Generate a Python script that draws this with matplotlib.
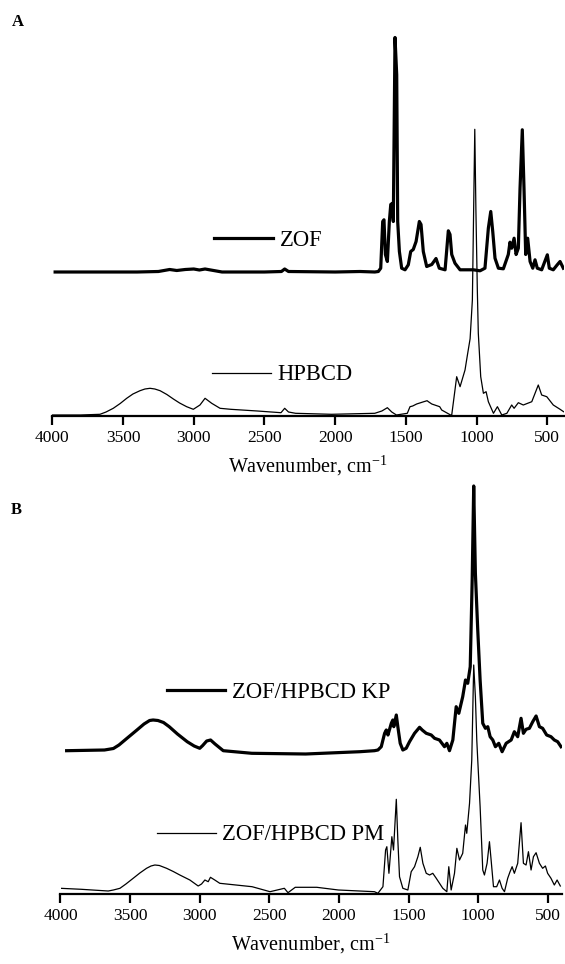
import matplotlib
matplotlib.use("Agg")
import matplotlib.pyplot as plt
from matplotlib.legend import Legend

plt.rcParams['font.family'] = ['Liberation Serif', 'DejaVu Serif']
plt.rcParams['mathtext.fontset'] = 'stix'

# ---------------- data (wavenumber, cm-1 ; absorbance, a.u., stacked) ----------------
zof_wn = [3980, 3700, 3400, 3250, 3170, 3120, 3060, 3000, 2960, 2920, 2860, 2800, 2500, 2380,
          2357, 2330, 2000, 1824, 1720, 1695, 1678, 1664, 1655, 1645, 1631, 1617, 1607, 1595,
          1589, 1577, 1565, 1558, 1546, 1530, 1506, 1483, 1466, 1448, 1428, 1405, 1393, 1377,
          1353, 1317, 1287, 1264, 1223, 1200, 1188, 1176, 1153, 1117, 1070, 1023, 976, 941,
          917, 900, 886, 870, 846, 811, 776, 764, 752, 735, 721, 705, 693, 677, 665, 653, 639,
          622, 603, 587, 571, 540, 500, 486, 458, 430, 410, 387]
zof_abs = [1.44, 1.44, 1.44, 1.445, 1.465, 1.455, 1.465, 1.47, 1.46, 1.47, 1.455, 1.44, 1.44, 1.445,
           1.47, 1.445, 1.44, 1.445, 1.44, 1.445, 1.478, 1.945, 1.962, 1.615, 1.545, 1.945, 2.115, 2.128,
           1.945, 3.785, 3.412, 1.945, 1.645, 1.478, 1.462, 1.512, 1.645, 1.665, 1.745, 1.945, 1.915, 1.645,
           1.495, 1.515, 1.575, 1.478, 1.462, 1.852, 1.815, 1.615, 1.528, 1.462, 1.462, 1.462, 1.452, 1.478,
           1.878, 2.045, 1.845, 1.578, 1.478, 1.472, 1.615, 1.738, 1.678, 1.778, 1.615, 1.678, 2.278, 2.862,
           2.278, 1.615, 1.778, 1.545, 1.478, 1.562, 1.478, 1.462, 1.612, 1.478, 1.462, 1.512, 1.545, 1.478]

hpbcd_wn = [4000, 3800, 3663, 3620, 3569, 3520, 3474, 3430, 3380, 3345, 3309, 3275, 3238, 3190,
            3144, 3100, 3050, 3003, 2956, 2920, 2873,
            2814, 2739, 2550, 2383, 2357, 2330, 2280, 2026, 1720, 1670, 1631, 1600, 1567, 1490,
            1471, 1452, 1424, 1380, 1350, 1341, 1317, 1261, 1247, 1184, 1176, 1153, 1141, 1117,
            1082, 1065, 1046, 1030, 1022, 1013, 1005, 995, 988, 971, 952, 933, 917, 881, 853, 822,
            786, 752, 735, 705, 670, 610, 564, 540, 504, 458, 410, 385]
hpbcd_abs = [0.01, 0.01, 0.017, 0.04, 0.077, 0.125, 0.177, 0.22, 0.253, 0.27, 0.277, 0.27, 0.253, 0.215,
             0.17, 0.13, 0.093, 0.067, 0.11, 0.177, 0.127,
             0.077, 0.067, 0.05, 0.033, 0.077, 0.04, 0.027, 0.017, 0.027, 0.05, 0.083, 0.04, 0.01, 0.027,
             0.093, 0.10, 0.12, 0.14, 0.153, 0.143, 0.12, 0.093, 0.06, 0.01, 0.01, 0.26, 0.393, 0.293,
             0.46, 0.61, 0.773, 1.16, 1.96, 2.867, 2.06, 1.26, 0.827, 0.393, 0.227, 0.243, 0.143, 0.027,
             0.093, 0.01, 0.027, 0.11, 0.077, 0.133, 0.11, 0.143, 0.31, 0.21, 0.193, 0.11, 0.067, 0.043]

kp_wn = [3956, 3684, 3620, 3580, 3520, 3451, 3400, 3360, 3335, 3300, 3260, 3219, 3160, 3090, 3040,
         3000, 2980, 2950, 2922, 2890, 2831, 2626, 2239,
         1849, 1745, 1720, 1696, 1672, 1660, 1648, 1624, 1613, 1606, 1588, 1577, 1560, 1541, 1517,
         1493, 1457, 1421, 1402, 1373, 1337, 1313, 1278, 1242, 1225, 1206, 1182, 1158, 1139, 1111,
         1091, 1075, 1057, 1043, 1032, 1020, 1003, 986, 967, 948, 931, 914, 895, 876, 852, 828, 799,
         763, 740, 716, 692, 675, 656, 632, 608, 584, 560, 537, 508, 477, 453, 429, 405]
kp_abs = [1.433, 1.44, 1.455, 1.49, 1.56, 1.64, 1.70, 1.735, 1.74, 1.735, 1.715, 1.673, 1.60, 1.523, 1.48,
          1.457, 1.483, 1.53, 1.54, 1.50, 1.433, 1.407, 1.40,
          1.423, 1.433, 1.44, 1.473, 1.607, 1.64, 1.59, 1.707, 1.74, 1.673, 1.79, 1.673, 1.507, 1.44, 1.457,
          1.523, 1.607, 1.667, 1.64, 1.607, 1.59, 1.557, 1.54, 1.473, 1.507, 1.433, 1.54, 1.873, 1.807, 1.973,
          2.14, 2.107, 2.273, 3.14, 4.08, 3.207, 2.64, 2.14, 1.707, 1.657, 1.673, 1.573, 1.54, 1.473, 1.507,
          1.423, 1.507, 1.54, 1.623, 1.573, 1.757, 1.607, 1.647, 1.657, 1.723, 1.78, 1.673, 1.657, 1.59,
          1.573, 1.54, 1.523, 1.473]

pm_wn = [4000, 3850, 3750, 3657, 3620, 3573, 3530, 3478, 3430, 3382, 3350, 3322, 3290, 3238, 3190,
         3143, 3071, 3011, 2987, 2963, 2939, 2923, 2892,
         2856, 2624, 2495, 2392, 2366, 2314, 2159, 2004, 1745, 1720, 1684, 1665, 1656, 1641, 1620,
         1608, 1588, 1577, 1565, 1541, 1505, 1481, 1457, 1433, 1416, 1397, 1373, 1349, 1326, 1301,
         1254, 1225, 1211, 1194, 1170, 1153, 1134, 1111, 1091, 1082, 1062, 1046, 1032, 1020, 1010,
         1003, 986, 967, 955, 936, 919, 907, 890, 867, 847, 828, 811, 788, 771, 756, 740, 716, 692,
         675, 656, 639, 620, 603, 584, 560, 537, 517, 501, 477, 453, 433, 410]
pm_abs = [0.057, 0.047, 0.038, 0.03, 0.04, 0.057, 0.10, 0.157, 0.21, 0.257, 0.28, 0.29, 0.285, 0.257, 0.225,
          0.19, 0.14, 0.08, 0.10, 0.14, 0.123, 0.167, 0.14,
          0.107, 0.073, 0.023, 0.057, 0.013, 0.067, 0.067, 0.04, 0.023, 0.007, 0.073, 0.44, 0.473, 0.207, 0.573,
          0.44, 0.947, 0.54, 0.173, 0.057, 0.04, 0.223, 0.273, 0.373, 0.467, 0.307, 0.207, 0.19, 0.207, 0.157,
          0.057, 0.023, 0.273, 0.04, 0.207, 0.457, 0.34, 0.407, 0.69, 0.607, 0.907, 1.34, 2.29, 1.973, 1.54,
          1.34, 0.873, 0.24, 0.19, 0.307, 0.523, 0.34, 0.073, 0.073, 0.14, 0.057, 0.023, 0.157, 0.223, 0.273,
          0.207, 0.307, 0.713, 0.307, 0.29, 0.423, 0.24, 0.373, 0.413, 0.307, 0.257, 0.28, 0.207, 0.157, 0.09,
          0.14, 0.08]

xticks = [4000, 3500, 3000, 2500, 2000, 1500, 1000, 500]
xlabel = "Wavenumber, cm$^{\\mathregular{-1}}$"

# ---------------- figure ----------------
W, H = 565, 964
fig = plt.figure(figsize=(W / 100, H / 100), dpi=100)


def fx(px):
    return px / W


def fy(py):
    return 1 - py / H


axA = fig.add_axes([fx(52.3), fy(416), fx(511.3), 386 / H])
axB = fig.add_axes([fx(60.5), fy(894), fx(501.2), 414 / H])

lZOF, = axA.plot(zof_wn, zof_abs, color='black', lw=2.3)
lHP, = axA.plot(hpbcd_wn, hpbcd_abs, color='black', lw=0.9)
lKP, = axB.plot(kp_wn, kp_abs, color='black', lw=2.3)
lPM, = axB.plot(pm_wn, pm_abs, color='black', lw=0.9)

axA.set_xlim(4000, 385)
axA.set_ylim(0, 3.86)
axB.set_xlim(4000, 400)
axB.set_ylim(0, 4.14)

for ax in (axA, axB):
    for s in ('top', 'left', 'right'):
        ax.spines[s].set_visible(False)
    ax.spines['bottom'].set_linewidth(1.6)
    ax.set_yticks([])
    ax.set_xticks(xticks)
    ax.set_xticklabels([str(t) for t in xticks])
    ax.tick_params(axis='x', direction='out', length=6.5, width=1.6, labelsize=12.5, pad=3.5)
    ax.set_xlabel(xlabel, fontsize=14.5)
    ax.xaxis.label.set_va('center')
    ax.patch.set_alpha(0)

axA.xaxis.set_label_coords(0.5, (416 - 466) / 386)
axB.xaxis.set_label_coords(0.5, (894 - 944) / 414)


def put_legend(ax, line, text, px, py):
    leg = Legend(ax, [line], [text], loc='center left', bbox_to_anchor=(fx(px), fy(py)),
                 bbox_transform=fig.transFigure, frameon=False, fontsize=16.3,
                 handlelength=2.6, handletextpad=0.3, borderpad=0, borderaxespad=0)
    ax.add_artist(leg)


put_legend(axA, lZOF, "ZOF", 214.4, 240)
put_legend(axA, lHP, "HPBCD", 211.9, 375)
put_legend(axB, lKP, "ZOF/HPBCD KP", 166.5, 692.7)
put_legend(axB, lPM, "ZOF/HPBCD PM", 156.7, 835)

fig.text(fx(18), fy(22), "A", fontsize=12, fontweight='bold', ha='center', va='center')
fig.text(fx(16), fy(510), "B", fontsize=12, fontweight='bold', ha='center', va='center')

fig.savefig("out.png", dpi=100)
